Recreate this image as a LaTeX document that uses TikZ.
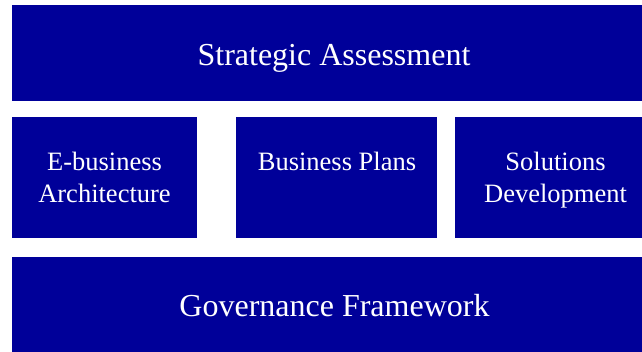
\documentclass[tikz,border=0pt]{standalone}
\usepackage{fontspec}
\setmainfont{Liberation Serif}
\definecolor{bleufonce}{RGB}{0,0,153}
\begin{document}
\begin{tikzpicture}[x=1pt, y=-1pt,
	bloc/.style={fill=bleufonce, draw=none, inner sep=0pt, anchor=north west},
	titre/.style={text=white, inner sep=0pt, anchor=base, font=\fontsize{32}{38}\selectfont},
	soustitre/.style={text=white, inner sep=0pt, anchor=base, font=\fontsize{26.5}{32}\selectfont}]
			\useasboundingbox (0,0) rectangle (642,351);
			%Blocs du schema
			\node[bloc, minimum width=644pt, minimum height=96pt] (SA) at (12,5) {};
			\node[bloc, minimum width=185pt, minimum height=121pt] (EA) at (12,117) {};
			\node[bloc, minimum width=201pt, minimum height=121pt] (BP) at (236,117) {};
			\node[bloc, minimum width=201pt, minimum height=121pt] (SD) at (455,117) {};
			\node[bloc, minimum width=644pt, minimum height=96pt] (GF) at (12,257) {};
			
			%Textes des blocs
			\node[titre] (tSA) at (334,65) {Strategic Assessment};
			\node[soustitre] (tEA1) at (104.5,170.5) {E-business};
			\node[soustitre] (tEA2) at (104.5,202.5) {Architecture};
			\node[soustitre] (tBP) at (337,170.5) {Business Plans};
			\node[soustitre] (tSD1) at (555.5,170.5) {Solutions};
			\node[soustitre] (tSD2) at (555.5,202.5) {Development};
			\node[titre] (tGF) at (334.5,316.5) {Governance Framework};
		\end{tikzpicture}
\end{document}
